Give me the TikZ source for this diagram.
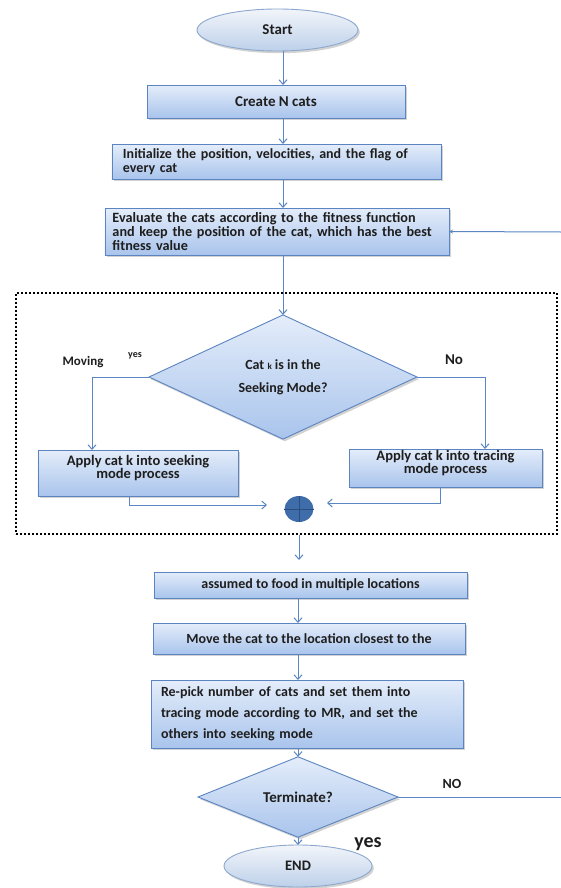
\documentclass[tikz,border=0pt]{standalone}
\usepackage{fontspec}
\setmainfont{Carlito}
\usetikzlibrary{arrows.meta,shapes.geometric,shadows}

\definecolor{edge}{HTML}{5B84C0}
\definecolor{arrowc}{HTML}{5A87C4}
\definecolor{boxtop}{HTML}{E4EDFA}
\definecolor{boxbot}{HTML}{A9C4EC}
\definecolor{ovaltop}{HTML}{F2F5FA}
\definecolor{ovalbot}{HTML}{BDD0E9}
\definecolor{ovaledge}{HTML}{8DA8CE}
\definecolor{knob}{HTML}{3F6DAA}
\definecolor{knobline}{HTML}{2A4E80}
\definecolor{ink}{HTML}{1E1E1E}

% font size / leading in big points
\newcommand\fs[2]{\fontsize{#1bp}{#2bp}\selectfont}

\begin{document}
\begin{tikzpicture}[x=1bp,y=-1bp,
  font=\bfseries, text=ink,
  shade/.style={drop shadow={shadow xshift=1.8bp,shadow yshift=-2.2bp,opacity=0.35}},
  proc/.style={rectangle, draw=edge, line width=0.9bp, top color=boxtop,
    bottom color=boxbot, shade, inner sep=0pt, outer sep=0pt},
  decide/.style={diamond, draw=edge, line width=0.9bp, top color=boxtop,
    bottom color=boxbot, shade, inner sep=0pt, outer sep=0pt, align=center},
  oval/.style={ellipse, draw=ovaledge, line width=0.9bp, top color=ovaltop,
    bottom color=ovalbot, shade, inner sep=0pt, outer sep=0pt},
  arr/.style={draw=arrowc, line width=1bp, -{Straight Barb[length=4.5bp,width=8bp]}},
  link/.style={draw=arrowc, line width=1bp},
]
\fill[white] (0,0) rectangle (561,888);
\useasboundingbox (0,0) rectangle (561,888);

% main column
\node[oval, minimum width=161bp, minimum height=42bp, font=\bfseries\fs{15}{15}] (start) at (277.5,30) {Start};
\node[proc, minimum width=258bp, minimum height=33bp, font=\bfseries\fs{15}{15}] (create) at (276,101.5) {Create N cats};
\node[proc, minimum width=329bp, minimum height=35bp, text width=307bp, align=left,
  font=\bfseries\fs{14}{13.5}] (init) at (276.5,161.5)
  {Initialize\ the position,\ velocities,\ and the flag\ of\\every cat};
\node[proc, minimum width=344bp, minimum height=47bp, text width=329bp, align=left,
  font=\bfseries\fs{14.2}{13.8}] (eval) at (277,231.5)
  {Evaluate the cats according\ to the fitness function\\and keep the position\ of the cat, which\ has the best\\fitness value};

% mode selection block
\node[draw=black, line width=2bp, dash pattern=on 1.8bp off 2.2bp, minimum width=541bp,
  minimum height=241bp, inner sep=0pt] (zone) at (286.5,413.5) {};
\node[decide, minimum width=268bp, minimum height=120bp, font=\bfseries\fs{14}{23}] (d1) at (283,377)
  {Cat {\fs{9}{9}k} is in the\\Seeking\ Mode?};
\node[proc, minimum width=200bp, minimum height=46bp, align=center, text depth=13bp,
  font=\bfseries\fs{14.5}{13}] (seek) at (138,473)
  {Apply cat k into seeking\\mode process};
\node[proc, minimum width=193bp, minimum height=38bp, align=center, text depth=12bp,
  font=\bfseries\fs{14.5}{13}] (trace) at (445.5,468)
  {Apply cat k into tracing\\mode process};
\node[ellipse, fill=knob, minimum width=29bp, minimum height=26bp, inner sep=0pt] (plus) at (299,509) {};
\draw[knobline, line width=0.8bp] (plus.north) -- (plus.south) (plus.west) -- (plus.east);

% lower column
\node[proc, minimum width=313bp, minimum height=26bp, font=\bfseries\fs{14}{14}] (assume) at (310.5,585)
  {assumed\ to food\ in\ multiple\ locations};
\node[proc, minimum width=312bp, minimum height=31bp, font=\bfseries\fs{14}{14}] (move) at (309,638.5)
  {Move the cat to the location\ closest\ to the};
\node[proc, minimum width=312bp, minimum height=68bp, text width=292bp, align=left,
  font=\bfseries\fs{14}{21}] (rep) at (307,714)
  {Re-pick number\ of cats and set them into\\tracing mode\ according\ to MR, and set the\\others into\ seeking\ mode};
\node[decide, minimum width=200bp, minimum height=68bp, font=\bfseries\fs{15}{15}] (d2) at (298,797) {Terminate?};
\node[oval, minimum width=148bp, minimum height=42bp, font=\bfseries\fs{14.5}{14.5}] (end) at (298,866) {END};

% branch labels
\node[font=\bfseries\fs{13}{13}] (lmov) at (83,362) {Moving};
\node[font=\bfseries\fs{10}{10}] (lyes) at (135,356) {yes};
\node[font=\bfseries\fs{15}{15}] (lno) at (454,360) {No};
\node[font=\bfseries\fs{14}{14}] (lnoT) at (452,784) {NO};
\node[font=\bfseries\fs{20}{20}] (lyesT) at (368,844) {yes};

% connectors
\coordinate (back) at (561,232);
\coordinate (loop) at (561,797);
\draw[arr] (start.south -| d1.north) -- (create.north -| d1.north);
\draw[arr] (create.south -| d1.north) -- (init.north -| d1.north);
\draw[arr] (init.south -| d1.north) -- (eval.north -| d1.north);
\draw[arr] (eval.south -| d1.north) -- (d1.north);
\draw[draw=arrowc, line width=1bp, -{Stealth[length=4bp,width=4bp]}] (back) -- (eval.east);
\draw[arr] (d1.west) -| ([xshift=-46bp]seek.north);
\draw[arr] (d1.east) -| ([xshift=39.5bp]trace.north);
\draw[arr, shorten >=32bp] ([xshift=-9bp]seek.south) |- ([yshift=4bp]plus.center);
\draw[arr, shorten >=28bp] ([xshift=-5.5bp]trace.south) |- ([yshift=6bp]plus.center);
\draw[arr, shorten >=12bp] (zone.south -| plus.south) -- (assume.north -| plus.south);
\draw[arr] (assume.south -| d2.north) -- (move.north -| d2.north);
\draw[arr] (move.south -| d2.north) -- (rep.north -| d2.north);
\draw[arr] (rep.south -| d2.north) -- (d2.north);
\draw[arr] (d2.south) -- (end.north);
\draw[link] (d2.east) -- (loop);
\end{tikzpicture}
\end{document}
